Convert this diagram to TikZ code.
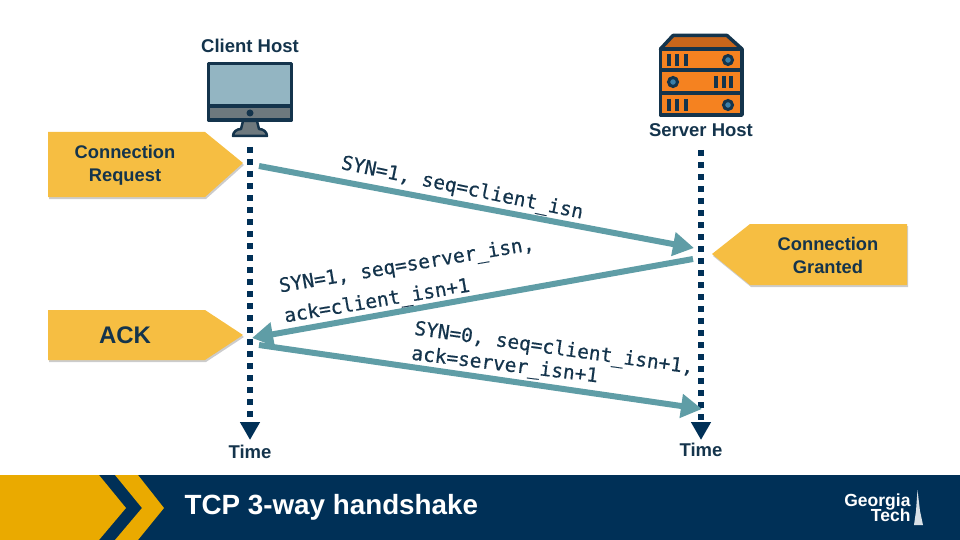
\documentclass[tikz,border=0pt]{standalone}
\usepackage{fontspec}
\setmainfont{Liberation Sans}
\newfontfamily\msgfont[FakeBold=0.5]{DejaVu Sans Mono}
\usetikzlibrary{arrows.meta,shadows}
\definecolor{navy}{HTML}{003057}
\definecolor{ink}{HTML}{14344C}
\definecolor{gold}{HTML}{EAAA00}
\definecolor{note}{HTML}{F6BE42}
\definecolor{teal}{HTML}{5F9DA6}
\definecolor{screen}{HTML}{93B5C2}
\definecolor{slate}{HTML}{6E797E}
\definecolor{rack}{HTML}{F58220}
\definecolor{roof}{HTML}{C8661B}
\definecolor{led}{HTML}{3B7FA8}
\tikzset{
  host/.style={font=\fontsize{18.5}{20}\selectfont\bfseries,text=ink},
  notetext/.style={font=\fontsize{18.3}{23}\selectfont\bfseries,text=ink,align=center},
  msg/.style={font=\fontsize{19.5}{22}\selectfont\msgfont,text=ink,anchor=west},
  notebox/.style={fill=note,drop shadow={shadow xshift=1pt,shadow yshift=-2pt,opacity=.2,fill=black}},
  timeline/.style={navy,line width=6pt,dash pattern=on 6pt off 6pt,-{Triangle[length=18pt,width=19pt]}},
  packet/.style={teal,line width=6pt,-{Triangle[length=21pt,width=23pt]}},
  icon/.style={draw=ink,line width=3.5pt,line join=round}
}
\begin{document}
\begin{tikzpicture}
  [x=1pt,y=-1pt]
  \useasboundingbox (0,0) rectangle (960,540);

  % Hosts
  \node[host] (client) at (250,46) {Client Host};
  \node[host] (server) at (701,130) {Server Host};
  \draw[icon,fill=screen] (208.5,63.5) rectangle (291.5,106);
  \draw[icon,fill=slate] (208.5,106) rectangle (291.5,120);
  \fill[ink] (250,113) circle (3.5);
  \draw[icon,fill=slate,line width=2.5pt] (243,121) -- (257,121) -- (259,129) to[out=0,in=90] (267,136) -- (233,136) to[out=90,in=180] (241,129) -- cycle;
  \draw[icon,fill=rack] (660.5,49) -- (742,49) -- (742,115) -- (660.5,115) -- cycle;
  \draw[icon,fill=roof] (660.5,49) -- (673,35.5) -- (727,35.5) -- (742,49) -- cycle;
  \draw[icon] (660.5,70) -- (742,70) (660.5,93) -- (742,93);
  \foreach \y/\xa/\xb/\xc/\xled in {60/669/677/686/728,82/716/724/731/673,105/669/677/686/728}{
    \draw[ink,line width=3.5pt] (\xa,\y-6) -- (\xa,\y+6) (\xb,\y-6) -- (\xb,\y+6) (\xc,\y-6) -- (\xc,\y+6);
    \draw[ink,line width=3pt,fill=led] (\xled,\y) circle (4.5);
  }

  % Time lines
  \coordinate (clienttop) at (250,147);
  \coordinate (clientend) at (250,440);
  \coordinate (servertop) at (701,150);
  \coordinate (serverend) at (701,440);
  \draw[timeline] (clienttop) -- (clientend);
  \draw[timeline] (servertop) -- (serverend);
  \node[host] (clienttime) at (250,452) {Time};
  \node[host] (servertime) at (701,450) {Time};

  % Notes
  \fill[notebox] (48,132) -- (205,132) -- (243,163) -- (205,197) -- (48,197) -- cycle;
  \fill[notebox] (48,310) -- (205,310) -- (243,335) -- (205,360) -- (48,360) -- cycle;
  \fill[notebox] (907,224) -- (750,224) -- (712,254) -- (750,285) -- (907,285) -- cycle;
  \node[notetext] (request) at (125,165) {Connection\\Request};
  \node[notetext] (granted) at (828,255) {Connection\\Granted};
  \node[notetext,font=\fontsize{24}{26}\selectfont\bfseries] (ack) at (125,335) {ACK};

  % Packets
  \coordinate (syn1) at (259,166);
  \coordinate (syn2) at (694,248);
  \coordinate (synack1) at (693,259);
  \coordinate (synack2) at (252,338);
  \coordinate (ack1) at (259,345);
  \coordinate (ack2) at (702,409);
  \draw[packet] (syn1) -- (syn2);
  \draw[packet] (synack1) -- (synack2);
  \draw[packet] (ack1) -- (ack2);
  \node[msg,rotate=-11.7] (synmsg) at (338,163) {SYN=1, seq=client\_isn};
  \node[msg,rotate=9.5] (synackmsg) at (276,288) {SYN=1, seq=server\_isn,};
  \node[msg,rotate=9.5] (synackmsgb) at (281,318) {ack=client\_isn+1};
  \node[msg,rotate=-8] (ackmsg) at (411,329) {SYN=0, seq=client\_isn+1,};
  \node[msg,rotate=-7] (ackmsgb) at (408,354) {ack=server\_isn+1};

  % Banner
  \fill[navy] (0,475) rectangle (960,540);
  \fill[gold] (0,475) -- (99,475) -- (126,508) -- (99,540) -- (0,540) -- cycle;
  \fill[gold] (115,475) -- (138,475) -- (164,508) -- (138,540) -- (115,540) -- (142,508) -- cycle;
  \node[font=\fontsize{27.8}{30}\selectfont\bfseries,text=white,anchor=west] (title) at (181,507) {TCP 3-way handshake};
  \node[font=\fontsize{17.5}{19}\selectfont\bfseries,text=white,anchor=east] (georgia) at (914,502) {Georgia};
  \node[font=\fontsize{17.5}{19}\selectfont\bfseries,text=white,anchor=east] (tech) at (914,515) {Tech};
  \fill[white!85!navy] (917.5,490) -- (916,511) -- (914,525) -- (923,525) -- (920,511) -- cycle;
\end{tikzpicture}
\end{document}
